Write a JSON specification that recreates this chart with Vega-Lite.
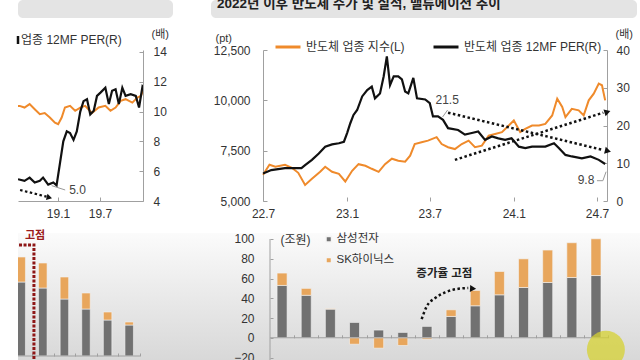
{
"$schema": "https://vega.github.io/schema/vega-lite/v6.json",
"padding": {"left": 13, "top": 0, "right": 0, "bottom": 0},
"background": "#ffffff",
"config": {
  "font": "Liberation Sans, Noto Sans CJK KR, sans-serif",
  "view": {"stroke": null},
  "axis": {"grid": false, "domainColor": "#a0a0a0", "tickColor": "#a0a0a0", "labelColor": "#333333", "labelFontSize": 12, "titleColor": "#333333", "titleFontSize": 11, "titleFontWeight": "normal", "tickSize": -4},
  "legend": {"labelColor": "#333333", "labelFontSize": 12, "padding": 0}
},
"columns": 2,
"spacing": {"row": 32, "column": 0},
"bounds": "flush",
"align": "each",
"resolve": {"scale": {"color": "independent"}, "legend": {"color": "independent"}},
"datasets": {
  "title": [{"title": "2022년 이후 반도체 주가 및 실적, 밸류에이션 추이"}],
  "idx22": [
    {"date": "2022-07-01", "index": 6300}, {"date": "2022-07-15", "index": 6800}, {"date": "2022-07-28", "index": 6700},
    {"date": "2022-08-18", "index": 6800}, {"date": "2022-09-02", "index": 6650}, {"date": "2022-09-16", "index": 6400},
    {"date": "2022-10-01", "index": 5800}, {"date": "2022-10-16", "index": 6100}, {"date": "2022-11-03", "index": 6450},
    {"date": "2022-11-14", "index": 6700}, {"date": "2022-11-29", "index": 6450}, {"date": "2022-12-14", "index": 6350},
    {"date": "2022-12-28", "index": 5970}, {"date": "2023-01-12", "index": 6500}, {"date": "2023-01-26", "index": 6830},
    {"date": "2023-02-10", "index": 6750}, {"date": "2023-02-24", "index": 6600}, {"date": "2023-03-11", "index": 6450},
    {"date": "2023-03-25", "index": 6830}, {"date": "2023-04-09", "index": 7100}, {"date": "2023-04-23", "index": 7000},
    {"date": "2023-05-08", "index": 6950}, {"date": "2023-05-19", "index": 7250}, {"date": "2023-05-29", "index": 7830},
    {"date": "2023-06-13", "index": 7920}, {"date": "2023-06-27", "index": 8000}, {"date": "2023-07-16", "index": 8170},
    {"date": "2023-07-27", "index": 7830}, {"date": "2023-08-10", "index": 7670}, {"date": "2023-08-25", "index": 7580},
    {"date": "2023-09-09", "index": 7830}, {"date": "2023-09-24", "index": 8000}, {"date": "2023-10-08", "index": 7670},
    {"date": "2023-10-23", "index": 7750}, {"date": "2023-11-07", "index": 8250}, {"date": "2023-11-21", "index": 8330},
    {"date": "2023-12-06", "index": 8420}, {"date": "2023-12-21", "index": 8750}, {"date": "2024-01-01", "index": 9000},
    {"date": "2024-01-15", "index": 8420}, {"date": "2024-01-26", "index": 8580}, {"date": "2024-02-10", "index": 8750},
    {"date": "2024-02-25", "index": 8750}, {"date": "2024-03-10", "index": 8830}, {"date": "2024-03-25", "index": 9250},
    {"date": "2024-04-05", "index": 10080}, {"date": "2024-04-16", "index": 9670}, {"date": "2024-04-23", "index": 9170},
    {"date": "2024-05-07", "index": 9580}, {"date": "2024-05-22", "index": 9500}, {"date": "2024-06-02", "index": 9250},
    {"date": "2024-06-13", "index": 10000}, {"date": "2024-06-24", "index": 10330}, {"date": "2024-07-05", "index": 10830},
    {"date": "2024-07-12", "index": 10750}, {"date": "2024-07-19", "index": 10000}
  ],
  "per22": [
    {"date": "2022-07-01", "v": 7.3}, {"date": "2022-07-19", "v": 8.2}, {"date": "2022-08-18", "v": 8.7},
    {"date": "2022-09-23", "v": 8.7}, {"date": "2022-10-01", "v": 9.5}, {"date": "2022-10-16", "v": 10.9},
    {"date": "2022-10-31", "v": 12.6}, {"date": "2022-11-14", "v": 14.4}, {"date": "2022-11-29", "v": 15.0},
    {"date": "2022-12-14", "v": 15.3}, {"date": "2022-12-25", "v": 15.7}, {"date": "2023-01-01", "v": 18.0},
    {"date": "2023-01-08", "v": 20.6}, {"date": "2023-01-15", "v": 22.8}, {"date": "2023-01-23", "v": 24.1},
    {"date": "2023-02-03", "v": 27.7}, {"date": "2023-02-14", "v": 29.4}, {"date": "2023-02-24", "v": 30.3},
    {"date": "2023-03-03", "v": 27.2}, {"date": "2023-03-14", "v": 28.5}, {"date": "2023-03-22", "v": 33.0},
    {"date": "2023-03-29", "v": 38.3}, {"date": "2023-04-05", "v": 30.7}, {"date": "2023-04-13", "v": 33.0},
    {"date": "2023-04-23", "v": 33.0}, {"date": "2023-05-01", "v": 32.2}, {"date": "2023-05-08", "v": 29.0},
    {"date": "2023-05-15", "v": 28.5}, {"date": "2023-05-26", "v": 32.6}, {"date": "2023-06-03", "v": 27.2},
    {"date": "2023-06-21", "v": 26.9}, {"date": "2023-07-01", "v": 25.9}, {"date": "2023-07-08", "v": 22.4},
    {"date": "2023-07-19", "v": 22.4}, {"date": "2023-07-30", "v": 21.5}, {"date": "2023-08-10", "v": 19.3},
    {"date": "2023-09-01", "v": 18.8}, {"date": "2023-09-16", "v": 17.6}, {"date": "2023-10-01", "v": 18.0},
    {"date": "2023-10-15", "v": 18.4}, {"date": "2023-10-30", "v": 16.2}, {"date": "2023-11-14", "v": 17.1},
    {"date": "2023-11-28", "v": 16.6}, {"date": "2023-12-13", "v": 16.2}, {"date": "2023-12-27", "v": 16.6},
    {"date": "2024-01-12", "v": 14.4}, {"date": "2024-01-26", "v": 14.0}, {"date": "2024-02-10", "v": 14.4},
    {"date": "2024-02-25", "v": 14.4}, {"date": "2024-03-10", "v": 14.4}, {"date": "2024-03-29", "v": 15.3},
    {"date": "2024-04-09", "v": 14.0}, {"date": "2024-04-23", "v": 12.2}, {"date": "2024-05-07", "v": 11.8},
    {"date": "2024-05-29", "v": 11.3}, {"date": "2024-06-17", "v": 11.8}, {"date": "2024-07-05", "v": 10.9},
    {"date": "2024-07-19", "v": 9.8}
  ],
  "anno22": [{"date": "2023-08-08", "v": 26.75, "label": "21.5"}, {"date": "2024-06-07", "v": 5.56, "label": "9.8"}],
  "lead22": [
    {"id": "a", "date": "2023-08-09", "v": 24.1}, {"id": "a", "date": "2023-07-29", "v": 22.25},
    {"id": "b", "date": "2024-07-01", "v": 5.38}, {"id": "b", "date": "2024-07-14", "v": 5.38}, {"id": "b", "date": "2024-07-21", "v": 7.76}
  ],
  "arr22": [
    {"id": "down", "date": "2023-08-10", "v": 23.4}, {"id": "down", "date": "2024-07-15", "v": 13.5},
    {"id": "up", "date": "2023-08-25", "v": 10.9}, {"id": "up", "date": "2024-07-15", "v": 23.4}
  ],
  "head22": [{"id": "down", "date": "2024-07-25", "v": 13.25}, {"id": "up", "date": "2024-07-24", "v": 23.6}],
  "idx18": [
    {"date": "2018-07-13", "index": 2076}, {"date": "2018-07-20", "index": 2076}, {"date": "2018-08-10", "index": 2054},
    {"date": "2018-09-01", "index": 2100}, {"date": "2018-09-23", "index": 2032}, {"date": "2018-10-15", "index": 1964},
    {"date": "2018-11-05", "index": 1980}, {"date": "2018-11-27", "index": 1920}, {"date": "2018-12-19", "index": 1852},
    {"date": "2019-01-02", "index": 1830}, {"date": "2019-01-17", "index": 1920}, {"date": "2019-01-31", "index": 2054},
    {"date": "2019-02-22", "index": 2076}, {"date": "2019-03-16", "index": 2010}, {"date": "2019-04-07", "index": 2054},
    {"date": "2019-04-28", "index": 2076}, {"date": "2019-05-27", "index": 1980}, {"date": "2019-06-25", "index": 2054},
    {"date": "2019-07-24", "index": 2076}, {"date": "2019-08-15", "index": 2010}, {"date": "2019-09-06", "index": 2054},
    {"date": "2019-09-28", "index": 2144}, {"date": "2019-10-19", "index": 2166}, {"date": "2019-11-17", "index": 2120},
    {"date": "2019-12-09", "index": 2188}, {"date": "2019-12-24", "index": 2210}, {"date": "2020-01-07", "index": 2320}
  ],
  "per18": [
    {"date": "2018-07-13", "v": 5.46}, {"date": "2018-08-10", "v": 5.35}, {"date": "2018-09-01", "v": 5.57},
    {"date": "2018-09-23", "v": 5.24}, {"date": "2018-10-15", "v": 5.35}, {"date": "2018-10-29", "v": 5.57},
    {"date": "2018-11-20", "v": 5.1}, {"date": "2018-12-12", "v": 5.24}, {"date": "2018-12-26", "v": 5.05},
    {"date": "2019-01-10", "v": 6.58}, {"date": "2019-01-24", "v": 8.0}, {"date": "2019-02-08", "v": 8.67},
    {"date": "2019-02-22", "v": 8.56}, {"date": "2019-03-09", "v": 8.1}, {"date": "2019-03-23", "v": 8.67},
    {"date": "2019-04-07", "v": 10.0}, {"date": "2019-04-21", "v": 10.7}, {"date": "2019-05-06", "v": 10.83},
    {"date": "2019-05-20", "v": 9.8}, {"date": "2019-06-04", "v": 10.05}, {"date": "2019-06-18", "v": 11.05},
    {"date": "2019-07-03", "v": 11.27}, {"date": "2019-07-24", "v": 11.6}, {"date": "2019-08-08", "v": 10.5},
    {"date": "2019-08-22", "v": 11.4}, {"date": "2019-09-06", "v": 11.5}, {"date": "2019-09-20", "v": 10.5},
    {"date": "2019-10-05", "v": 11.6}, {"date": "2019-10-19", "v": 11.05}, {"date": "2019-11-10", "v": 11.16},
    {"date": "2019-12-02", "v": 11.05}, {"date": "2019-12-16", "v": 10.27}, {"date": "2019-12-31", "v": 11.7},
    {"date": "2020-01-07", "v": 11.6}
  ],
  "anno18": [{"date": "2019-03-26", "v": 4.74, "label": "5.0"}],
  "lead18": [{"date": "2018-12-05", "v": 5.03}, {"date": "2019-02-01", "v": 4.74}],
  "arr18": [{"date": "2018-07-22", "v": 4.74}, {"date": "2018-11-13", "v": 4.29}],
  "head18": [{"date": "2018-11-25", "v": 4.23}],
  "bars18": [
    {"period": 1, "company": "삼성전자", "value": 74}, {"period": 1, "company": "SK하이닉스", "value": 25},
    {"period": 2, "company": "삼성전자", "value": 68}, {"period": 2, "company": "SK하이닉스", "value": 25},
    {"period": 3, "company": "삼성전자", "value": 57}, {"period": 3, "company": "SK하이닉스", "value": 22},
    {"period": 4, "company": "삼성전자", "value": 47}, {"period": 4, "company": "SK하이닉스", "value": 16},
    {"period": 5, "company": "삼성전자", "value": 36}, {"period": 5, "company": "SK하이닉스", "value": 8},
    {"period": 6, "company": "삼성전자", "value": 31}, {"period": 6, "company": "SK하이닉스", "value": 3}
  ],
  "base18": [{"period": 0.852, "period2": 6.5, "value": 0}],
  "redpath": [{"period": 0.9, "value": 111, "o": 1}, {"period": 1.59, "value": 111, "o": 2}, {"period": 1.59, "value": -12, "o": 3}],
  "peak18": [{"period": 1.64, "value": 120, "label": "고점"}],
  "bars": [
    {"period": 1, "company": "삼성전자", "value": 53}, {"period": 1, "company": "SK하이닉스", "value": 12.5},
    {"period": 2, "company": "삼성전자", "value": 43}, {"period": 2, "company": "SK하이닉스", "value": 7},
    {"period": 3, "company": "삼성전자", "value": 29}, {"period": 3, "company": "SK하이닉스", "value": 0.5},
    {"period": 4, "company": "삼성전자", "value": 15.5}, {"period": 4, "company": "SK하이닉스", "value": -6.5},
    {"period": 5, "company": "삼성전자", "value": 7.8}, {"period": 5, "company": "SK하이닉스", "value": -10.5},
    {"period": 6, "company": "삼성전자", "value": 5.4}, {"period": 6, "company": "SK하이닉스", "value": -7.8},
    {"period": 7, "company": "삼성전자", "value": 11.5}, {"period": 7, "company": "SK하이닉스", "value": -1.5},
    {"period": 8, "company": "삼성전자", "value": 21.6}, {"period": 8, "company": "SK하이닉스", "value": 6.7},
    {"period": 9, "company": "삼성전자", "value": 32.4}, {"period": 9, "company": "SK하이닉스", "value": 15.5},
    {"period": 10, "company": "삼성전자", "value": 43.5}, {"period": 10, "company": "SK하이닉스", "value": 23.6},
    {"period": 11, "company": "삼성전자", "value": 50.9}, {"period": 11, "company": "SK하이닉스", "value": 29},
    {"period": 12, "company": "삼성전자", "value": 56}, {"period": 12, "company": "SK하이닉스", "value": 32.8},
    {"period": 13, "company": "삼성전자", "value": 61}, {"period": 13, "company": "SK하이닉스", "value": 35.2},
    {"period": 14, "company": "삼성전자", "value": 63}, {"period": 14, "company": "SK하이닉스", "value": 37.2}
  ],
  "base": [{"period": 0.5, "period2": 14.5, "value": 0}],
  "yline": [{"period": 0.5, "value": -30, "value2": 100}],
  "curve": [{"period": 6.78, "value": 18.9}, {"period": 6.99, "value": 31.7}, {"period": 7.34, "value": 40.2}, {"period": 7.75, "value": 45.9}, {"period": 8.3, "value": 49.6}, {"period": 8.71, "value": 50.3}],
  "curvehead": [{"period": 8.91, "value": 49.8}],
  "note": [{"period": 7.72, "value": 65, "label": "증가율 고점"}],
  "cursor": [{"period": 14.41, "value": -12.1}]
},
"concat": [
  {"width": 155, "height": 18, "view": {"fill": "#e4e4e4", "cornerRadius": 5, "stroke": null}, "data": {"values": []}, "mark": "point"},
  {"width": 426, "height": 18, "view": {"fill": "#e4e4e4", "cornerRadius": 5, "stroke": null},
   "data": {"name": "title"},
   "mark": {"type": "text", "align": "left", "baseline": "alphabetic", "fontSize": 13.5, "fontWeight": "bold", "color": "#222222", "clip": true, "dx": 6, "dy": -10},
   "encoding": {
     "text": {"field": "title"},
     "x": {"datum": 0, "type": "quantitative", "scale": {"domain": [0, 1]}, "axis": null},
     "y": {"datum": 0, "type": "quantitative", "scale": {"domain": [0, 1]}, "axis": null}
   }
  },
  {
   "width": 125, "height": 151,
   "encoding": {
     "x": {"field": "date", "type": "temporal",
       "scale": {"type": "utc", "domain": [{"year": 2018, "month": 7, "date": 13, "utc": true}, {"year": 2020, "month": 1, "date": 2, "utc": true}]},
       "axis": {"values": [{"year": 2019, "month": 1, "date": 1, "utc": true}, {"year": 2019, "month": 7, "date": 1, "utc": true}], "labelExpr": "utcFormat(datum.value, '%y.%-m')", "title": null, "labelPadding": 11}}
   },
   "layer": [
     {"data": {"name": "idx18"}, "mark": {"type": "line", "color": "#EF8A2B", "strokeWidth": 2, "clip": true},
      "encoding": {"y": {"field": "index", "type": "quantitative", "scale": {"domain": [800, 2826], "nice": false, "zero": false}, "axis": null}}},
     {"encoding": {"y": {"field": "v", "type": "quantitative", "scale": {"domain": [4, 14.13], "nice": false, "zero": false},
        "axis": {"orient": "right", "values": [4, 6, 8, 10, 12, 14], "labelPadding": 14, "title": "(배)", "titleAngle": 0, "titleAlign": "left", "titleBaseline": "middle", "titleX": 8, "titleY": -16}}},
      "layer": [
        {"data": {"name": "per18"}, "mark": {"type": "line", "strokeWidth": 2.2, "clip": true},
         "encoding": {"color": {"datum": "업종 12MF PER(R)", "scale": {"range": ["#111111"]},
           "legend": {"orient": "none", "legendX": 0, "legendY": -16, "symbolType": "M0,-1L0,1", "symbolSize": 64, "symbolStrokeWidth": 2.5, "symbolOffset": -6, "labelOffset": -3, "title": null}}}},
        {"data": {"name": "lead18"}, "mark": {"type": "line", "color": "#999999", "strokeWidth": 1}, "encoding": {}},
        {"data": {"name": "arr18"}, "mark": {"type": "line", "color": "#111111", "strokeWidth": 2.2, "strokeDash": [2.5, 2.5]}, "encoding": {}},
        {"data": {"name": "head18"}, "mark": {"type": "point", "shape": "triangle-right", "filled": true, "color": "#111111", "opacity": 1, "size": 40, "angle": 14}},
        {"data": {"name": "anno18"}, "mark": {"type": "text", "fontSize": 12, "color": "#444444", "align": "center", "baseline": "middle"}, "encoding": {"text": {"field": "label"}}}
      ]}
   ],
   "resolve": {"scale": {"y": "independent"}}
  },
  {
   "width": 396, "height": 151,
   "encoding": {
     "x": {"field": "date", "type": "temporal",
       "scale": {"type": "utc", "domain": [{"year": 2022, "month": 3, "date": 9, "utc": true}, {"year": 2024, "month": 7, "date": 23, "utc": true}]},
       "axis": {"values": [{"year": 2022, "month": 7, "date": 1, "utc": true}, {"year": 2023, "month": 1, "date": 1, "utc": true}, {"year": 2023, "month": 7, "date": 1, "utc": true}, {"year": 2024, "month": 1, "date": 1, "utc": true}, {"year": 2024, "month": 7, "date": 1, "utc": true}], "labelExpr": "utcFormat(datum.value, '%y.%-m')", "domain": false, "title": null, "labelPadding": 11}}
   },
   "layer": [
     {"data": {"name": "idx22"}, "mark": {"type": "line", "strokeWidth": 2},
      "encoding": {
        "y": {"field": "index", "type": "quantitative", "scale": {"domain": [5000, 12500], "nice": false, "zero": false},
          "axis": {"orient": "left", "offset": -52, "values": [5000, 7500, 10000, 12500], "labelExpr": "format(datum.value, ',')", "labelPadding": 17, "title": "(pt)", "titleAngle": 0, "titleAlign": "left", "titleBaseline": "middle", "titleX": -48, "titleY": -12}},
        "color": {"datum": "반도체 업종 지수(L)",
          "scale": {"domain": ["반도체 업종 지수(L)", "반도체 업종 12MF PER(R)"], "range": ["#EF8A2B", "#111111"]},
          "legend": {"orient": "none", "legendX": 63, "legendY": -17, "direction": "horizontal", "gridAlign": "none", "symbolType": "stroke", "symbolSize": 625, "symbolStrokeWidth": 3, "labelOffset": 4, "columnPadding": 22, "title": null}}
      }},
     {"encoding": {"y": {"field": "v", "type": "quantitative", "scale": {"domain": [0, 40], "nice": false},
        "axis": {"orient": "right", "values": [0, 10, 20, 30, 40], "labelPadding": 13, "title": "(배)", "titleAngle": 0, "titleAlign": "left", "titleBaseline": "middle", "titleX": 8, "titleY": -16}}},
      "layer": [
        {"mark": {"type": "rule", "color": "#a0a0a0", "strokeWidth": 1},
         "encoding": {"x": {"datum": {"year": 2022, "month": 7, "date": 1, "utc": true}, "type": "temporal"}, "x2": {"datum": {"year": 2024, "month": 7, "date": 23, "utc": true}}, "y": {"datum": 0, "type": "quantitative"}}},
        {"data": {"name": "per22"}, "mark": {"type": "line", "strokeWidth": 2.2}, "encoding": {"color": {"datum": "반도체 업종 12MF PER(R)"}}},
        {"data": {"name": "arr22"}, "mark": {"type": "line", "color": "#111111", "strokeWidth": 2.5, "strokeDash": [2.5, 2.5]}, "encoding": {"detail": {"field": "id"}}},
        {"data": {"name": "head22"}, "transform": [{"filter": "datum.id == 'down'"}], "mark": {"type": "point", "shape": "triangle-right", "filled": true, "color": "#111111", "opacity": 1, "size": 50, "angle": 13.5}},
        {"data": {"name": "head22"}, "transform": [{"filter": "datum.id == 'up'"}], "mark": {"type": "point", "shape": "triangle-right", "filled": true, "color": "#111111", "opacity": 1, "size": 50, "angle": -17.5}},
        {"data": {"name": "lead22"}, "mark": {"type": "line", "color": "#999999", "strokeWidth": 1}, "encoding": {"detail": {"field": "id"}}},
        {"data": {"name": "anno22"}, "mark": {"type": "text", "fontSize": 12, "color": "#444444", "align": "center", "baseline": "middle"}, "encoding": {"text": {"field": "label"}}}
      ]}
   ],
   "resolve": {"scale": {"y": "independent"}}
  },
  {
   "width": 193, "height": 134.4,
   "view": {"fill": {"gradient": "linear", "x1": 0, "y1": 0, "x2": 0, "y2": 1, "stops": [{"offset": 0, "color": "#fbfbfb"}, {"offset": 1, "color": "#d6d6d6"}]}, "stroke": null},
   "encoding": {
     "x": {"field": "period", "type": "quantitative", "scale": {"domain": [0.852, 9.787], "nice": false, "zero": false, "padding": 0},
       "axis": {"values": [1.5, 2.5, 3.5, 4.5, 5.5, 6.5], "labels": false, "domain": false, "tickSize": -3, "offset": -11.4, "title": null}},
     "y": {"field": "value", "type": "quantitative", "scale": {"domain": [-11.4, 123], "nice": false, "zero": false, "padding": 0}, "axis": null}
   },
   "layer": [
     {"data": {"name": "bars18"}, "mark": {"type": "bar", "width": 8.5, "clip": true, "stroke": "#f4f4f4", "strokeWidth": 0.6},
      "encoding": {"color": {"field": "company", "type": "nominal", "scale": {"domain": ["삼성전자", "SK하이닉스"], "range": ["#717171", "#E8A65C"]}, "legend": null}}},
     {"data": {"name": "base18"}, "mark": {"type": "rule", "color": "#a0a0a0", "strokeWidth": 1}, "encoding": {"x2": {"field": "period2"}}},
     {"data": {"name": "redpath"}, "mark": {"type": "line", "color": "#8E1616", "strokeWidth": 3, "strokeDash": [3, 1.5]}, "encoding": {"order": {"field": "o"}}},
     {"data": {"name": "peak18"}, "mark": {"type": "text", "color": "#9B1B1B", "fontWeight": "bold", "fontSize": 11, "align": "center", "baseline": "middle"}, "encoding": {"text": {"field": "label"}}}
   ]
  },
  {
   "width": 434, "height": 134.4,
   "view": {"fill": {"gradient": "linear", "x1": 0, "y1": 0, "x2": 0, "y2": 1, "stops": [{"offset": 0, "color": "#fbfbfb"}, {"offset": 1, "color": "#d6d6d6"}]}, "stroke": null},
   "encoding": {
     "x": {"field": "period", "type": "quantitative", "scale": {"domain": [-1.944, 16.03], "nice": false, "zero": false, "padding": 0},
       "axis": {"values": [1.5, 2.5, 3.5, 4.5, 5.5, 6.5, 7.5, 8.5, 9.5, 10.5, 11.5, 12.5, 13.5, 14.5], "labels": false, "domain": false, "tickSize": -3, "offset": -29.6, "title": null}},
     "y": {"field": "value", "type": "quantitative", "scale": {"domain": [-30, 106.07], "nice": false, "zero": false, "padding": 0},
       "axis": {"orient": "left", "values": [-20, 0, 20, 40, 60, 80, 100], "offset": -59, "domain": false, "tickSize": -3, "labelPadding": 19, "title": "(조원)", "titleAngle": 0, "titleAlign": "left", "titleBaseline": "middle", "titleX": 10, "titleY": 6.5, "titleFontSize": 12}}
   },
   "layer": [
     {"data": {"name": "bars"}, "mark": {"type": "bar", "width": 10, "stroke": "#f4f4f4", "strokeWidth": 0.6},
      "encoding": {"color": {"field": "company", "type": "nominal", "scale": {"domain": ["삼성전자", "SK하이닉스"], "range": ["#717171", "#E8A65C"]},
          "legend": {"orient": "none", "legendX": 112, "legendY": 0.5, "symbolType": "square", "symbolSize": 30, "rowPadding": 8, "labelOffset": 2, "labelFontSize": 11.5, "title": null}}}},
     {"data": {"name": "base"}, "mark": {"type": "rule", "color": "#a0a0a0", "strokeWidth": 1}, "encoding": {"x2": {"field": "period2"}}},
     {"data": {"name": "yline"}, "mark": {"type": "rule", "color": "#a0a0a0", "strokeWidth": 1}, "encoding": {"y2": {"field": "value2"}}},
     {"data": {"name": "curve"}, "mark": {"type": "line", "interpolate": "monotone", "color": "#111111", "strokeWidth": 2.5, "strokeDash": [2.5, 2.5]}},
     {"data": {"name": "curvehead"}, "mark": {"type": "point", "shape": "triangle-right", "filled": true, "color": "#111111", "opacity": 1, "size": 50, "angle": 3}},
     {"data": {"name": "note"}, "mark": {"type": "text", "fontSize": 11.5, "fontWeight": "bold", "color": "#222222", "align": "center", "baseline": "middle"}, "encoding": {"text": {"field": "label"}}},
     {"data": {"name": "cursor"}, "mark": {"type": "point", "shape": "circle", "filled": true, "color": "#D6D232", "opacity": 0.75, "size": 1444}}
   ]
  }
]
}
